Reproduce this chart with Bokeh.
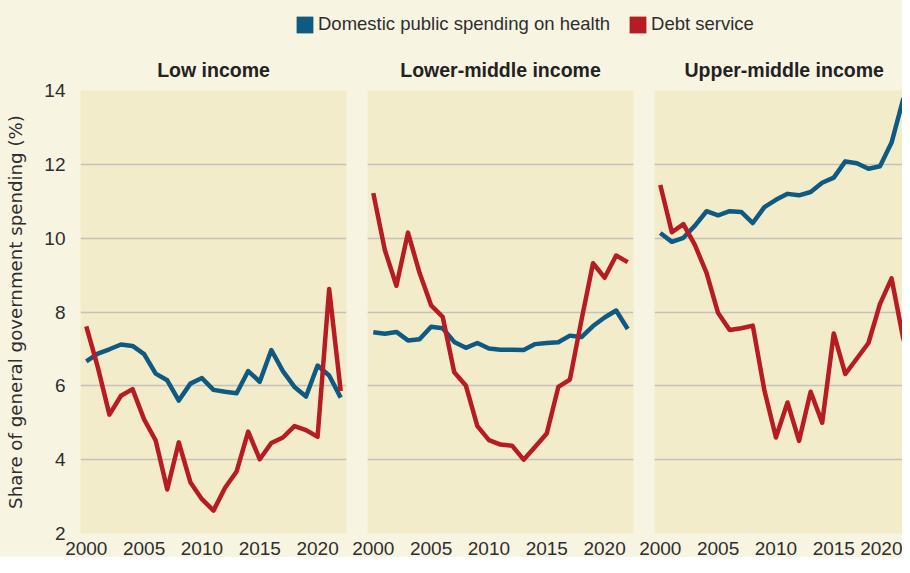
from bokeh.plotting import figure
from bokeh.layouts import column, row
from bokeh.models import Range1d, FixedTicker, Legend, LegendItem
from bokeh.embed import file_html
from bokeh.resources import INLINE

# ---------------- data ----------------
years = list(range(2000, 2023))

low_health = [6.66, 6.87, 6.99, 7.12, 7.08, 6.86, 6.33, 6.15, 5.60, 6.06, 6.21, 5.89,
              5.84, 5.80, 6.40, 6.11, 6.97, 6.40, 5.97, 5.71, 6.55, 6.28, 5.68]
low_debt = [7.61, 6.50, 5.22, 5.73, 5.91, 5.09, 4.52, 3.19, 4.47, 3.39, 2.93, 2.62,
            3.24, 3.68, 4.76, 4.01, 4.45, 4.60, 4.91, 4.80, 4.62, 8.62, 5.86]

lmid_health = [7.45, 7.41, 7.46, 7.23, 7.26, 7.60, 7.56, 7.19, 7.03, 7.16, 7.01, 6.98,
               6.98, 6.97, 7.13, 7.16, 7.18, 7.36, 7.32, 7.62, 7.85, 8.04, 7.54]
lmid_debt = [11.22, 9.68, 8.71, 10.15, 9.06, 8.18, 7.87, 6.37, 6.01, 4.91, 4.53, 4.41,
             4.38, 4.00, 4.35, 4.71, 5.97, 6.17, 7.78, 9.32, 8.93, 9.53, 9.35]

umid_health = [10.14, 9.90, 10.01, 10.34, 10.73, 10.62, 10.73, 10.71, 10.41, 10.84, 11.04, 11.20,
               11.16, 11.25, 11.50, 11.64, 12.08, 12.03, 11.88, 11.95, 12.59, 13.76, 12.60]
umid_debt = [11.44, 10.16, 10.38, 9.81, 9.06, 7.97, 7.51, 7.56, 7.63, 5.88, 4.60, 5.55,
             4.51, 5.84, 5.00, 7.42, 6.32, 6.74, 7.16, 8.22, 8.91, 7.29, 6.20]

panel_titles = ["Low income", "Lower-middle income", "Upper-middle income"]
series_names = ["Domestic public spending on health", "Debt service"]
y_label = "Share of general government spending (%)"
x_ticks = [2000, 2005, 2010, 2015, 2020]
y_ticks = [2, 4, 6, 8, 10, 12, 14]

# ---------------- style ----------------
PAGE_BG = "#f8f4e2"
PANEL_BG = "#f3ecca"
BLUE = "#0f5a82"
RED = "#b71c22"
GRID = "#c4c2b8"
TEXT = "#2e2e2e"
FONT = "Liberation Sans"
BG_STYLE = {"background-color": PAGE_BG}

X0, X1 = 1999.5, 2022.5
FRAME_W = 266
PX_PER_YEAR = FRAME_W / (X1 - X0)
HEADER_H = 40
PANEL_H = 517

# ---------------- header with legend ----------------
hdr = figure(width=902, height=HEADER_H, output_backend="svg", toolbar_location=None,
             x_range=Range1d(0, 1), y_range=Range1d(0, 1), min_border=0,
             x_axis_location=None, y_axis_location=None, outline_line_color=None,
             background_fill_color=PAGE_BG, border_fill_color=PAGE_BG, styles=BG_STYLE)
hdr.xgrid.visible = False
hdr.ygrid.visible = False
# zero-area proxy glyphs, only used for the legend swatches
r_h = hdr.quad(left=[0], right=[0], top=[0], bottom=[0], fill_color=BLUE, line_color=None)
r_d = hdr.quad(left=[0], right=[0], top=[0], bottom=[0], fill_color=RED, line_color=None)
leg = Legend(items=[LegendItem(label=series_names[0], renderers=[r_h]),
                    LegendItem(label=series_names[1], renderers=[r_d])],
             location=(294, 5), orientation="horizontal",
             glyph_width=21, glyph_height=21, label_height=21, label_standoff=3,
             spacing=17, padding=0, margin=0,
             border_line_color=None, background_fill_alpha=0,
             label_text_font=FONT, label_text_font_size="18.5px", label_text_color=TEXT)
hdr.add_layout(leg)


def make_panel(title, health, debt, width, bl, br, x_end, show_y):
    p = figure(width=width, height=PANEL_H, x_range=Range1d(X0, x_end), y_range=Range1d(2, 14),
               output_backend="svg", toolbar_location=None,
               min_border_left=bl, min_border_right=br, min_border_top=50, min_border_bottom=0,
               background_fill_color=PANEL_BG, border_fill_color=PAGE_BG,
               outline_line_color=None, title=title, styles=BG_STYLE)
    p.title.text_font = FONT
    p.title.text_font_size = "19.5px"
    p.title.text_font_style = "bold"
    p.title.text_color = "#222222"
    p.title.align = "center"
    p.title.standoff = 20
    p.xgrid.visible = False
    p.ygrid.ticker = FixedTicker(ticks=y_ticks)
    p.ygrid.grid_line_color = GRID
    p.ygrid.grid_line_width = 1.5

    p.xaxis.ticker = FixedTicker(ticks=x_ticks)
    p.xaxis.axis_line_color = None
    p.xaxis.major_tick_line_color = None
    p.xaxis.minor_tick_line_color = None
    p.xaxis.major_label_standoff = 2
    p.xaxis.major_label_text_font = FONT
    p.xaxis.major_label_text_font_size = "19px"
    p.xaxis.major_label_text_color = TEXT

    if show_y:
        p.yaxis.ticker = FixedTicker(ticks=y_ticks)
        p.yaxis.axis_line_color = None
        p.yaxis.major_tick_line_color = None
        p.yaxis.minor_tick_line_color = None
        p.yaxis.major_label_standoff = 9
        p.yaxis.major_label_text_font = FONT
        p.yaxis.major_label_text_font_size = "19px"
        p.yaxis.major_label_text_color = TEXT
        p.yaxis.axis_label = y_label
        p.yaxis.axis_label_standoff = 15
        p.yaxis.axis_label_text_font = "DejaVu Sans"
        p.yaxis.axis_label_text_font_size = "18.2px"
        p.yaxis.axis_label_text_font_style = "normal"
        p.yaxis.axis_label_text_color = TEXT
    else:
        p.yaxis.visible = False

    p.line(years, health, line_color=BLUE, line_width=4.5, line_join="round")
    p.line(years, debt, line_color=RED, line_width=4.5, line_join="round")
    return p


f1 = make_panel(panel_titles[0], low_health, low_debt, 348, 80, 2, X1, True)
f2 = make_panel(panel_titles[1], lmid_health, lmid_debt, 287, 19, 2, X1, False)
f3_frame_w = 267 - 19
f3 = make_panel(panel_titles[2], umid_health, umid_debt, 267, 19, 0,
                X0 + f3_frame_w / PX_PER_YEAR, False)
f3.title.align = "left"
f3.title.offset = 30

layout = column(hdr, row(f1, f2, f3, spacing=0, styles=BG_STYLE), spacing=0, styles=BG_STYLE)

open("out.html", "w").write(file_html(layout, INLINE))
